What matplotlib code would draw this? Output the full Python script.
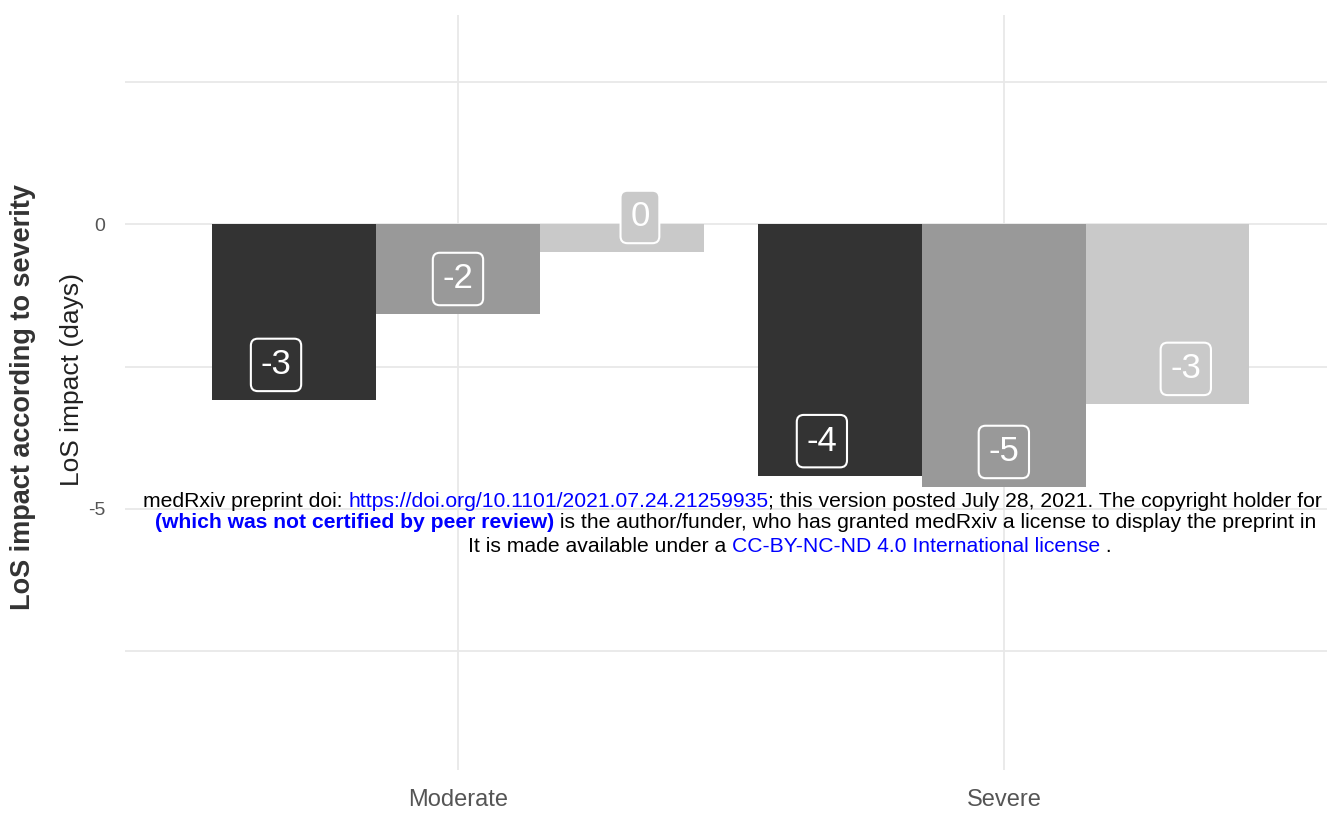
import matplotlib
matplotlib.use("Agg")
import matplotlib.pyplot as plt
import numpy as np

plt.rcParams['font.family'] = ['Liberation Sans', 'DejaVu Sans']
plt.rcParams['axes.unicode_minus'] = False

# data
severity = ["Moderate", "Severe"]
los_group1 = [-3.09, -4.43]
los_group2 = [-1.58, -4.62]
los_group3 = [-0.49, -3.16]
bar_colors = ["#333333", "#999999", "#c9c9c9"]
ytick_vals = [0, -5]
ytick_labels = ["0", "-5"]

fig = plt.figure(figsize=(13.27, 8.13), dpi=100)
ax = fig.add_axes([125 / 1327, 43 / 813, 1202 / 1327, 755 / 813])

x = np.arange(1, len(severity) + 1)
series = [los_group1, los_group2, los_group3]
bar_w = 0.3
for i, vals in enumerate(series):
    off = (i - 1) * bar_w
    ax.bar(x + off, vals, width=bar_w, color=bar_colors[i], zorder=2)
    # labels dodged a bit wider than the bars
    for xi, v in zip(x, vals):
        ax.text(xi + (i - 1) / 3, v + 0.62, str(int(round(v))),
                ha='center', va='center', fontsize=25, color='white', zorder=4,
                bbox=dict(boxstyle="round,pad=0.28,rounding_size=0.2",
                          fc=bar_colors[i], ec='white', lw=1.5))

ax.set_xlim(0.39, 2.592)
ax.set_ylim(-9.59, 3.68)
ax.set_xticks(x, severity)
ax.set_yticks(ytick_vals, ytick_labels)
ax.set_yticks([2.5, -2.5, -7.5], minor=True)
ax.tick_params(axis='both', which='both', length=0)
ax.tick_params(axis='x', labelsize=17, labelcolor='#555555', pad=14)
ax.tick_params(axis='y', labelsize=14, labelcolor='#555555', pad=14)
ax.grid(True, which='major', color='#e8e8e8', lw=1.3, zorder=0)
ax.grid(True, which='minor', axis='y', color='#e8e8e8', lw=1.3, zorder=0)
ax.set_axisbelow(True)
for s in ax.spines.values():
    s.set_visible(False)

fig.text(72 / 1327, 1 - 379 / 813, "LoS impact (days)", rotation=90,
         ha='center', va='center', fontsize=19, color='#222222')
fig.text(23 / 1327, 1 - 397 / 813, "LoS impact according to severity", rotation=90,
         ha='center', va='center', fontsize=19.5, fontweight='bold', color='#333333')

# preprint banner over the figure (cut at the right edge like the original)
blue = '#0000ff'
fs = 15.2
lines = [
    (143, 507, [("medRxiv preprint doi: ", 'black', 'normal'),
                ("https://doi.org/10.1101/2021.07.24.21259935", blue, 'normal'),
                ("; this version posted July 28, 2021. The copyright holder for", 'black', 'normal')]),
    (155, 528, [("(which was not certified by peer review)", blue, 'bold'),
                (" is the author/funder, who has granted medRxiv a license to display the preprint in", 'black', 'normal')]),
    (468, 552, [("It is made available under a ", 'black', 'normal'),
                ("CC-BY-NC-ND 4.0 International license", blue, 'normal'),
                (" .", 'black', 'normal')]),
]
for lx, ly, pieces in lines:
    txt, col, wt = pieces[0]
    prev = fig.text(lx / 1327, 1 - ly / 813, txt, color=col, fontweight=wt,
                    fontsize=fs, ha='left', va='baseline', zorder=10)
    for txt, col, wt in pieces[1:]:
        prev = ax.annotate(txt, xy=(1, 0), xycoords=prev, ha='left', va='bottom',
                           color=col, fontweight=wt, fontsize=fs,
                           annotation_clip=False, zorder=10)

fig.savefig("out.png", dpi=100)
